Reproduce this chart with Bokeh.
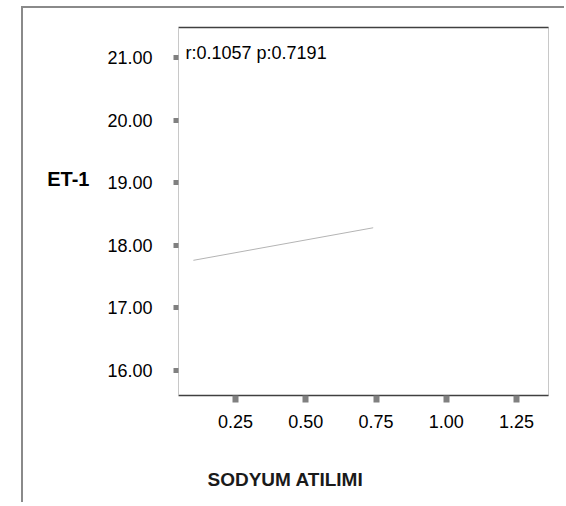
from bokeh.plotting import figure
from bokeh.models import (FixedTicker, NumeralTickFormatter, Label, LinearAxis, Range1d, Title)
from bokeh.embed import file_html
from bokeh.resources import INLINE

# data
reg_x = [0.10, 0.74]
reg_y = [17.76, 18.28]
x_ticks = [0.25, 0.50, 0.75, 1.00, 1.25]
y_ticks = [16.0, 17.0, 18.0, 19.0, 20.0, 21.0]
stat_text = "r:0.1057 p:0.7191"
x_title = "SODYUM ATILIMI"
y_title = "ET-1"

FONT = "Liberation Sans"

p = figure(width=543, height=496, output_backend="svg", toolbar_location=None,
           x_range=Range1d(0.047, 1.364), y_range=Range1d(15.60, 21.48),
           min_border_left=155, min_border_right=18, min_border_top=19, min_border_bottom=109)
p.styles = {"margin-left": "21px", "margin-top": "6px",
            "border-left": "2px solid #8a8a8a", "border-top": "2px solid #8a8a8a"}

p.grid.visible = False
p.outline_line_color = "#c8c8c8"
p.outline_line_width = 1
p.background_fill_color = "white"
p.border_fill_color = "white"

p.line(reg_x, reg_y, line_color="#b4b4b4", line_width=1)

xa = p.xaxis[0]
xa.ticker = FixedTicker(ticks=x_ticks)
xa.formatter = NumeralTickFormatter(format="0.00")
xa.axis_line_color = "#404040"
xa.axis_line_width = 1.5
xa.major_tick_in = 0
xa.major_tick_out = 7
xa.major_tick_line_width = 6
xa.major_tick_line_color = "#808080"
xa.major_tick_line_cap = "butt"
xa.minor_tick_line_color = None
xa.major_label_standoff = 12
xa.major_label_text_font = FONT
xa.major_label_text_font_size = "18px"
xa.major_label_text_color = "#000000"

ya = p.yaxis[0]
ya.ticker = FixedTicker(ticks=y_ticks)
ya.formatter = NumeralTickFormatter(format="0.00")
ya.axis_line_color = "#c8c8c8"
ya.major_tick_in = 0
ya.major_tick_out = 5
ya.major_tick_line_width = 5
ya.major_tick_line_color = "#808080"
ya.major_tick_line_cap = "butt"
ya.minor_tick_line_color = None
ya.major_label_standoff = 21
ya.major_label_text_font = FONT
ya.major_label_text_font_size = "18px"
ya.major_label_text_color = "#000000"
ya.axis_label = y_title + "\n\n"
ya.axis_label_orientation = "horizontal"
ya.axis_label_standoff = 15
ya.axis_label_text_font = FONT
ya.axis_label_text_font_size = "20px"
ya.axis_label_text_line_height = 1.5
ya.axis_label_text_font_style = "bold"
ya.axis_label_text_color = "#000000"

top = LinearAxis(ticker=FixedTicker(ticks=[]), axis_line_color="#404040", axis_line_width=1.5,
                 major_tick_line_color=None, minor_tick_line_color=None,
                 major_label_text_font_size="0px")
p.add_layout(top, "above")

p.add_layout(Title(text="\n" + x_title, align="left", offset=29, standoff=19,
                   text_font=FONT, text_font_size="19px", text_font_style="bold",
                   text_line_height=1.3, text_color="#1a1a1a"), "below")

p.add_layout(Label(x=0.072, y=21.08, text=stat_text, text_font=FONT, text_font_size="18px",
                   text_baseline="middle", text_align="left", text_color="#000000"))

open("out.html", "w").write(file_html(p, INLINE))
